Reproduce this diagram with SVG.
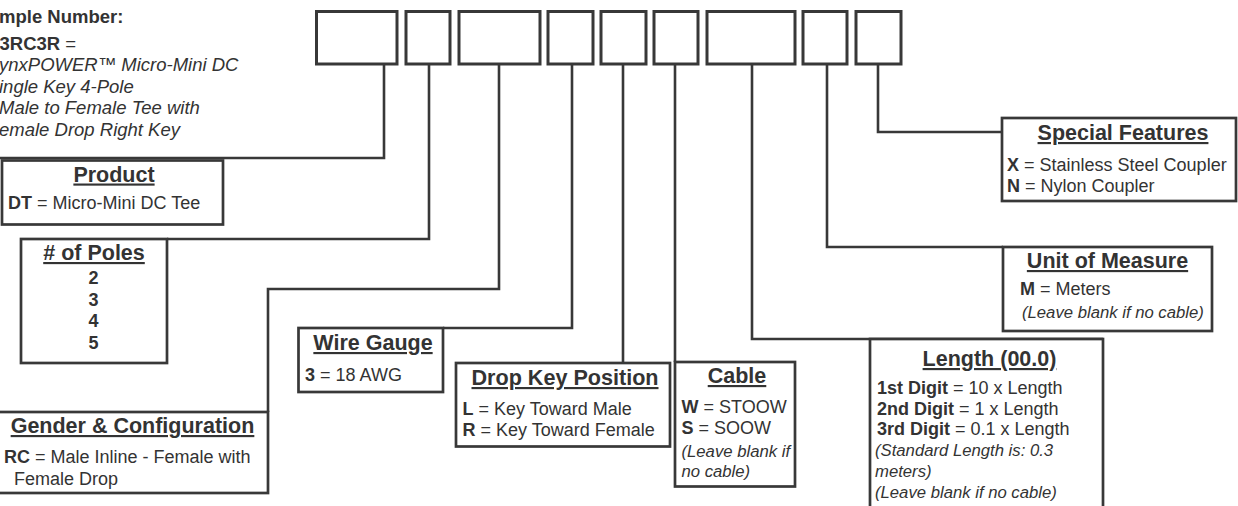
<svg xmlns="http://www.w3.org/2000/svg" width="1238" height="506" viewBox="0 0 1238 506">
<style>
 .box{fill:#fff;stroke:#383838;stroke-width:2.7}
 .code{fill:#fff;stroke:#383838;stroke-width:3}
 .wire{fill:none;stroke:#383838;stroke-width:2.6}
 text{font-family:"Liberation Sans",Arial,Helvetica,sans-serif;fill:#333}
 .t{font-size:21.5px;font-weight:bold;text-anchor:middle;text-decoration:underline}
 .b{font-size:18px}
 .k{font-weight:bold}
 .i{font-size:16.7px;font-style:italic}
 .s{font-size:18.5px}
 .si{font-size:18.5px;font-style:italic}
 .n{font-size:18px;font-weight:bold;text-anchor:middle}
</style>
<rect x="0" y="0" width="1238" height="506" fill="#fff"/>

<g id="sample">
 <text class="s k" x="-1" y="23">mple Number:</text>
 <text class="s" x="-0.5" y="49.5"><tspan class="k">3RC3R</tspan> =</text>
 <text class="si" x="-1" y="71">ynxPOWER™ Micro-Mini DC</text>
 <text class="si" x="-1" y="92.5">ingle Key 4-Pole</text>
 <text class="si" x="-1" y="114">Male to Female Tee with</text>
 <text class="si" x="-1" y="135.5">emale Drop Right Key</text>
</g>

<g id="code-boxes">
 <g id="code-1"><rect class="code" x="316.5" y="11.5" width="80.5" height="52.5"/></g>
 <g id="code-2"><rect class="code" x="406" y="11.5" width="44" height="52.5"/></g>
 <g id="code-3"><rect class="code" x="459" y="11.5" width="81" height="52.5"/></g>
 <g id="code-4"><rect class="code" x="548" y="11.5" width="45" height="52.5"/></g>
 <g id="code-5"><rect class="code" x="601" y="11.5" width="45" height="52.5"/></g>
 <g id="code-6"><rect class="code" x="654" y="11.5" width="44" height="52.5"/></g>
 <g id="code-7"><rect class="code" x="707" y="11.5" width="88" height="52.5"/></g>
 <g id="code-8"><rect class="code" x="803" y="11.5" width="44" height="52.5"/></g>
 <g id="code-9"><rect class="code" x="856" y="11.5" width="45" height="52.5"/></g>
</g>

<g id="connectors">
 <path class="wire" d="M384,65 V158 H-2"/>
 <path class="wire" d="M429,65 V239 H167"/>
 <path class="wire" d="M499,65 V289 H268 V412"/>
 <path class="wire" d="M572,65 V328 H443"/>
 <path class="wire" d="M623,65 V363"/>
 <path class="wire" d="M675,65 V362"/>
 <path class="wire" d="M752,65 V339 H1103"/>
 <path class="wire" d="M827,65 V247 H1003"/>
 <path class="wire" d="M878,65 V132 H1002"/>
</g>

<g id="product">
 <rect class="box" x="2" y="160.5" width="221" height="64"/>
 <text class="t" x="114" y="181.5">Product</text>
 <text class="b" x="8" y="209"><tspan class="k">DT</tspan> = Micro-Mini DC Tee</text>
</g>

<g id="poles">
 <rect class="box" x="21" y="239" width="146" height="124"/>
 <text class="t" x="94" y="260"># of Poles</text>
 <text class="n" x="93.5" y="284">2</text>
 <text class="n" x="93.5" y="305.5">3</text>
 <text class="n" x="93.5" y="327">4</text>
 <text class="n" x="93.5" y="348.5">5</text>
</g>

<g id="gender">
 <rect class="box" x="-5" y="412" width="273" height="81"/>
 <text class="t" x="132.5" y="433">Gender &amp; Configuration</text>
 <text class="b" x="4" y="463"><tspan class="k">RC</tspan> = Male Inline - Female with</text>
 <text class="b" x="14" y="485">Female Drop</text>
</g>

<g id="wire-gauge">
 <rect class="box" x="298.5" y="328" width="144.5" height="64"/>
 <text class="t" x="373" y="350">Wire Gauge</text>
 <text class="b" x="305" y="381"><tspan class="k">3</tspan> = 18 AWG</text>
</g>

<g id="drop-key">
 <rect class="box" x="456" y="363" width="214" height="83.5"/>
 <text class="t" x="565" y="385" textLength="187" lengthAdjust="spacingAndGlyphs">Drop Key Position</text>
 <text class="b" x="462.5" y="415"><tspan class="k">L</tspan> = Key Toward Male</text>
 <text class="b" x="462.5" y="436"><tspan class="k">R</tspan> = Key Toward Female</text>
</g>

<g id="cable">
 <rect class="box" x="675" y="362" width="120" height="124.5"/>
 <text class="t" x="737" y="383">Cable</text>
 <text class="b" x="681.5" y="413"><tspan class="k">W</tspan> = STOOW</text>
 <text class="b" x="681.5" y="434"><tspan class="k">S</tspan> = SOOW</text>
 <text class="i" x="681.5" y="456.5">(Leave blank if</text>
 <text class="i" x="681.5" y="477">no cable)</text>
</g>

<g id="length">
 <rect class="box" x="870" y="339" width="233" height="180"/>
 <text class="t" x="989.5" y="366">Length (00.0)</text>
 <text class="b" x="877" y="394"><tspan class="k">1st Digit</tspan> = 10 x Length</text>
 <text class="b" x="877" y="414.5"><tspan class="k">2nd Digit</tspan> = 1 x Length</text>
 <text class="b" x="877" y="435"><tspan class="k">3rd Digit</tspan> = 0.1 x Length</text>
 <text class="i" x="875" y="456">(Standard Length is: 0.3</text>
 <text class="i" x="875" y="477">meters)</text>
 <text class="i" x="875" y="498">(Leave blank if no cable)</text>
</g>

<g id="unit">
 <rect class="box" x="1003" y="247" width="209" height="84"/>
 <text class="t" x="1107.5" y="268">Unit of Measure</text>
 <text class="b" x="1020" y="295"><tspan class="k">M</tspan> = Meters</text>
 <text class="i" x="1022" y="317.5">(Leave blank if no cable)</text>
</g>

<g id="special">
 <rect class="box" x="1002" y="118" width="234" height="83"/>
 <text class="t" x="1123" y="140">Special Features</text>
 <text class="b" x="1007" y="171"><tspan class="k">X</tspan> = Stainless Steel Coupler</text>
 <text class="b" x="1007" y="192"><tspan class="k">N</tspan> = Nylon Coupler</text>
</g>
</svg>
